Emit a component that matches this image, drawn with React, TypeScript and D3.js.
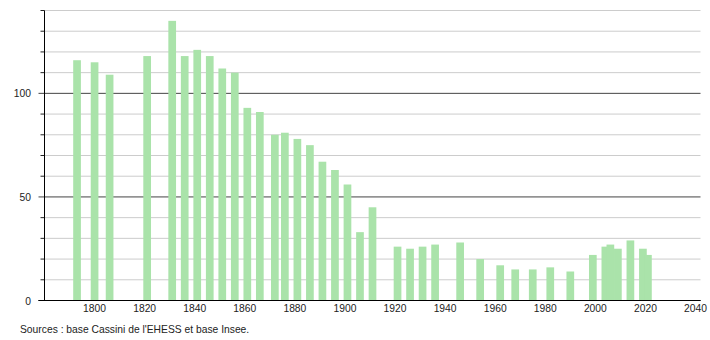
import React from "react";
import * as d3 from "d3";

const years = [1793, 1800, 1806, 1821, 1831, 1836, 1841, 1846, 1851, 1856, 1861, 1866, 1872, 1876, 1881, 1886, 1891, 1896, 1901, 1906, 1911, 1921, 1926, 1931, 1936, 1946, 1954, 1962, 1968, 1975, 1982, 1990, 1999, 2004, 2006, 2009, 2014, 2019, 2021];
const population = [116, 115, 109, 118, 135, 118, 121, 118, 112, 110, 93, 91, 80, 81, 78, 75, 67, 63, 56, 33, 45, 26, 25, 26, 27, 28, 20, 17, 15, 15, 16, 14, 22, 26, 27, 25, 29, 25, 22];
const xTicks = [1800, 1820, 1840, 1860, 1880, 1900, 1920, 1940, 1960, 1980, 2000, 2020, 2040];
const yLabelTicks = [0, 50, 100];
const yGridTicks = [10, 20, 30, 40, 60, 70, 80, 90, 110, 120, 130, 140];
const source = "Sources : base Cassini de l'EHESS et base Insee.";

export default function App() {
  const W = 710, H = 340;
  const left = 44.5, right = 700.5, top = 10.5, bottom = 300.5;
  const x = d3.scaleLinear().domain([1780, 2042]).range([left, right]);
  const y = d3.scaleLinear().domain([0, 140]).range([bottom, top]);
  const bw = 7.7;
  const font = "'Liberation Sans', Arial, sans-serif";
  return (
    <svg width={W} height={H} style={{ position: "absolute", left: 0, top: 0, background: "#fff" }}>
      {yGridTicks.map((t) => (
        <g key={"g" + t}>
          <line x1={left} x2={right} y1={y(t)} y2={y(t)} stroke="#cccccc" strokeWidth={1} />
          <line x1={left - 4} x2={left} y1={y(t)} y2={y(t)} stroke="#222" strokeWidth={1} />
        </g>
      ))}
      {yLabelTicks.map((t) => (
        <g key={"m" + t}>
          <line x1={left - 6} x2={right} y1={y(t)} y2={y(t)} stroke={t === 0 ? "#000" : "#444"} strokeWidth={1} />
          <text x={31} y={y(t) + 4} textAnchor="end" fontSize={10.3} fontFamily={font} fill="#222">{t}</text>
        </g>
      ))}
      {years.map((yr, i) => (
        <rect key={yr} x={x(yr) - bw / 2} y={y(population[i])} width={bw} height={y(0) - y(population[i])} fill="#aae3aa" />
      ))}
      <line x1={left - 6} x2={right} y1={y(0)} y2={y(0)} stroke="#000" strokeWidth={1} />
      <line x1={left} x2={left} y1={top} y2={bottom} stroke="#000" strokeWidth={1} />
      {xTicks.map((t) => (
        <text key={"x" + t} x={x(t)} y={312} textAnchor="middle" fontSize={10.3} fontFamily={font} fill="#222">{t}</text>
      ))}
      <text x={20} y={333} fontSize={10.3} fontFamily={font} fill="#222">{source}</text>
    </svg>
  );
}
